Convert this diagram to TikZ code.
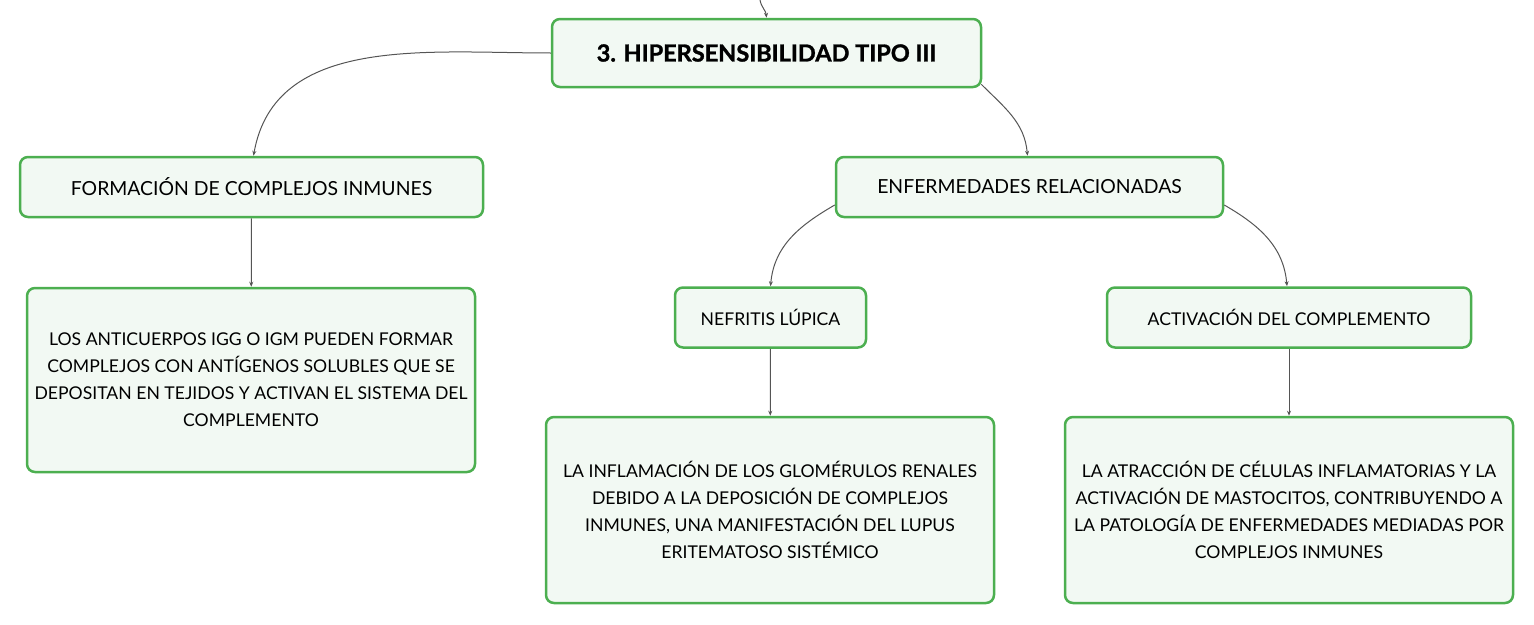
\documentclass[tikz,border=0pt]{standalone}
\usepackage{fontspec}
\setmainfont{Lato}
\newfontfamily\heavyfont{Lato}[BoldFeatures={FakeBold=1.3}]
\usepackage{tikz}
\usetikzlibrary{arrows.meta}
\definecolor{boxgreen}{HTML}{4CAF50}
\definecolor{boxfill}{HTML}{F2F9F3}
\definecolor{wire}{HTML}{555555}
\tikzset{
    every node/.style={draw=boxgreen, fill=boxfill, line width=2.5pt,
    	rounded corners=8pt, align=center, font=\fontsize{17.6}{27}\selectfont,
    	inner sep=0pt}
}
\tikzset{
    every edge/.append style={draw=wire, line width=1pt,
    	-{Stealth[length=5pt,width=4pt]}}
}
\tikzset{
	headbox/.style={minimum width=429pt, minimum height=68pt,
		font=\fontsize{23.5}{26}\selectfont\heavyfont\bfseries},
	keybox/.style={minimum height=60pt, font=\fontsize{19.4}{24}\selectfont},
	smallkey/.style={keybox, font=\fontsize{17.6}{22}\selectfont},
	notebox/.style={minimum width=448pt}
}

\begin{document}
\begin{tikzpicture}[x=1pt, y=-1pt]
	\useasboundingbox (0,0) rectangle (1534,624);
	\coordinate (in) at (760,0);
	\node (tipo) [headbox] at (766.5, 53) {3. HIPERSENSIBILIDAD TIPO III};
	\node (form) [keybox, minimum width=463pt] at (251.5,187) {FORMACIÓN DE COMPLEJOS INMUNES};
	\node (enf) [keybox, minimum width=387pt] at (1029.5,187) {ENFERMEDADES RELACIONADAS};
	\node (nef) [smallkey, minimum width=191pt] at (770.5,317.5) {NEFRITIS LÚPICA};
	\node (act) [smallkey, minimum width=364pt] at (1289,317.5) {ACTIVACIÓN DEL COMPLEMENTO};
	\node (anti) [notebox, minimum height=184pt] at (251,380) {LOS ANTICUERPOS IGG O IGM PUEDEN FORMAR\\COMPLEJOS CON ANTÍGENOS SOLUBLES QUE SE\\DEPOSITAN EN TEJIDOS Y ACTIVAN EL SISTEMA DEL\\COMPLEMENTO};
	\node (infl) [notebox, minimum height=186pt] at (770,510) {LA INFLAMACIÓN DE LOS GLOMÉRULOS RENALES\\DEBIDO A LA DEPOSICIÓN DE COMPLEJOS\\INMUNES, UNA MANIFESTACIÓN DEL LUPUS\\ERITEMATOSO SISTÉMICO};
	\node (atr) [notebox, minimum height=186pt] at (1289,510) {LA ATRACCIÓN DE CÉLULAS INFLAMATORIAS Y LA\\ACTIVACIÓN DE MASTOCITOS, CONTRIBUYENDO A\\LA PATOLOGÍA DE ENFERMEDADES MEDIADAS POR\\COMPLEJOS INMUNES};

	\draw (in) edge[out=-80, in=95] (tipo.north);
	\draw (tipo.west) edge[out=180, in=80] ([xshift=2pt]form.north);
	\draw ([xshift=-1pt, yshift=4pt]tipo.south east) edge[out=-45, in=95] ([xshift=-2pt]enf.north);
	\draw (form) edge (anti);
	\draw ([yshift=-18pt]enf.west) edge[out=210, in=85] (nef.north);
	\draw ([yshift=-18pt]enf.east) edge[out=-30, in=95] ([xshift=-2pt]act.north);
	\draw (nef) edge (infl);
	\draw (act) edge (atr);
\end{tikzpicture}
\end{document}
